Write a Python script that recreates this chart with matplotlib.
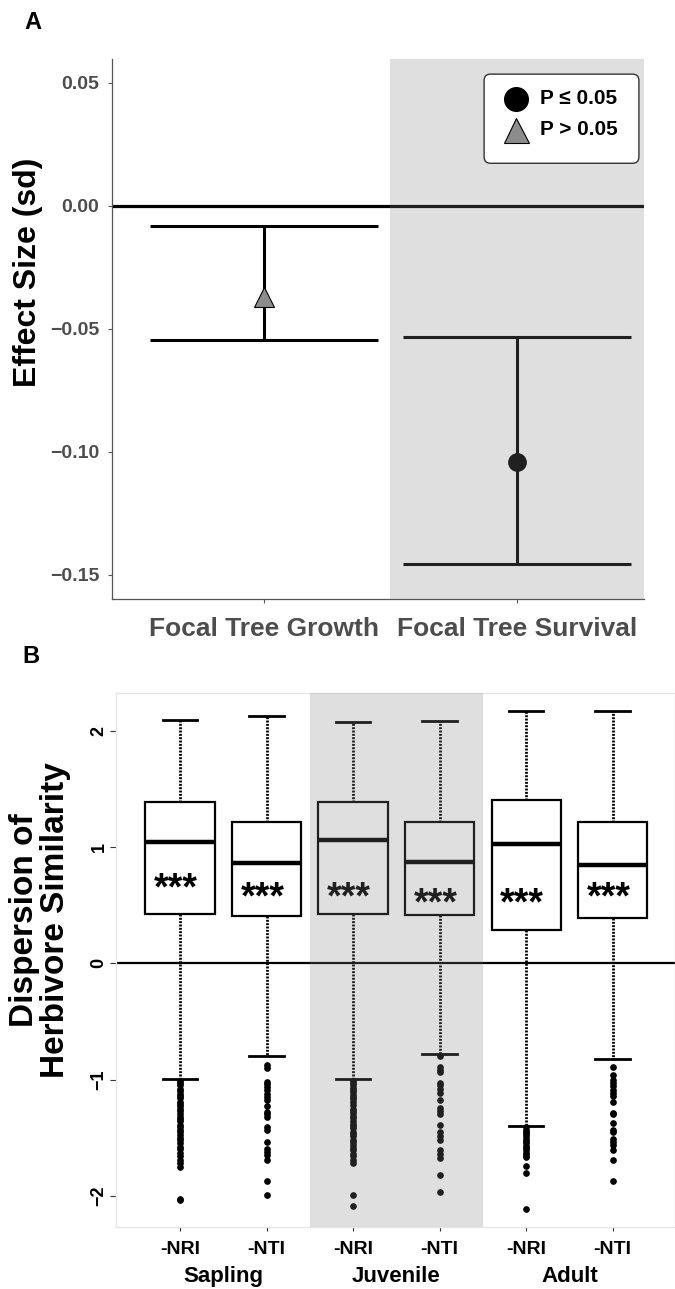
import matplotlib.pyplot as plt
from matplotlib.patches import FancyBboxPatch
from matplotlib.transforms import offset_copy, blended_transform_factory

plt.rcParams['font.family'] = ['Liberation Sans', 'DejaVu Sans']
plt.rcParams['font.weight'] = 'bold'

# ---- panel A data ----
effects = ['Focal Tree Growth', 'Focal Tree Survival']
estimate = [-0.037, -0.104]
ci_low = [-0.0545, -0.1458]
ci_high = [-0.0081, -0.0533]
significant = [False, True]
a_ticks = [-0.15, -0.10, -0.05, 0.00, 0.05]

# ---- panel B data ----
stages = ['Sapling', 'Juvenile', 'Adult']
indices = ['-NRI', '-NTI', '-NRI', '-NTI', '-NRI', '-NTI']
medians = [1.046, 0.868, 1.058, 0.871, 1.026, 0.845]
q1 = [0.428, 0.408, 0.428, 0.414, 0.287, 0.391]
q3 = [1.388, 1.218, 1.388, 1.221, 1.402, 1.221]
whisk_hi = [2.095, 2.133, 2.080, 2.083, 2.169, 2.175]
whisk_lo = [-0.991, -0.793, -0.991, -0.784, -1.403, -0.825]
outliers = [
    [-1.01, -1.03, -1.05, -1.08, -1.10, -1.12, -1.14, -1.16, -1.19, -1.21, -1.23,
     -1.25, -1.27, -1.30, -1.32, -1.34, -1.36, -1.39, -1.41, -1.43, -1.45, -1.48,
     -1.50, -1.52, -1.55, -1.58, -1.60, -1.63, -1.66, -1.69, -1.72, -1.75, -2.03, -2.04],
    [-0.877, -0.90, -1.02, -1.04, -1.064, -1.092, -1.12, -1.15, -1.172, -1.23, -1.279,
     -1.30, -1.322, -1.409, -1.43, -1.538, -1.595, -1.624, -1.653, -1.696, -1.877, -1.997],
    [-1.01, -1.03, -1.05, -1.07, -1.09, -1.11, -1.13, -1.15, -1.17, -1.19, -1.22,
     -1.25, -1.27, -1.29, -1.31, -1.33, -1.36, -1.38, -1.40, -1.42, -1.45, -1.47,
     -1.49, -1.52, -1.54, -1.56, -1.59, -1.61, -1.64, -1.66, -1.69, -1.72, -1.99, -2.09],
    [-0.796, -0.891, -0.914, -0.934, -1.029, -1.049, -1.078, -1.115, -1.172, -1.245,
     -1.27, -1.293, -1.394, -1.451, -1.489, -1.523, -1.609, -1.638, -1.672, -1.822, -1.971],
    [-1.41, -1.43, -1.45, -1.47, -1.49, -1.51, -1.53, -1.55, -1.57, -1.59, -1.61,
     -1.63, -1.65, -1.67, -1.74, -1.80, -2.11],
    [-0.891, -0.963, -1.0, -1.029, -1.058, -1.086, -1.115, -1.144, -1.193, -1.288,
     -1.299, -1.371, -1.437, -1.451, -1.509, -1.538, -1.566, -1.603, -1.696, -1.871],
]
star_y = [0.718, 0.647, 0.647, 0.589, 0.589, 0.647]
b_ticks = [-2, -1, 0, 1, 2]

W, H = 675, 1289
fig = plt.figure(figsize=(W / 100, H / 100), dpi=100)

def px_axes(l, t, r, b):
    return fig.add_axes([l / W, 1 - b / H, (r - l) / W, (b - t) / H])

# ================= Panel A =================
axA = px_axes(111.7, 59, 643.7, 599.3)
xa = [1, 2]
axA.axhline(0, color='black', lw=2.3, zorder=2)
axA.errorbar(xa, estimate,
             yerr=[[e - l for e, l in zip(estimate, ci_low)],
                   [h - e for e, h in zip(estimate, ci_high)]],
             fmt='none', ecolor='black', elinewidth=2.2, capsize=82, capthick=2.2, zorder=2)
for x, y, s in zip(xa, estimate, significant):
    if s:
        axA.plot(x, y, 'o', ms=12.5, color='black', zorder=3)
    else:
        axA.plot(x, y, '^', ms=15, mfc='#8c8c8c', mec='black', mew=0.8, zorder=3)
axA.axvspan(1.5, 2.5, color='0.5', alpha=0.25, lw=0, zorder=4)

axA.set_xlim(0.4, 2.5)
axA.set_ylim(-0.160, 0.0597)
axA.set_xticks(xa)
axA.set_xticklabels(effects, fontsize=19, color='#4d4d4d')
axA.set_yticks(a_ticks)
axA.set_yticklabels([f'{v:.2f}'.replace('-', '\u2212') for v in a_ticks],
                    fontsize=14, color='#4d4d4d')
axA.tick_params(axis='x', length=3, color='#555555', pad=10)
axA.tick_params(axis='y', length=3, color='#555555', pad=6)
for side in ['top', 'right']:
    axA.spines[side].set_visible(False)
for side in ['left', 'bottom']:
    axA.spines[side].set_color('#555555')
    axA.spines[side].set_linewidth(0.9)

# legend box (manual, ggplot-like)
box = FancyBboxPatch((0.700, 0.807), 0.291, 0.165, transform=axA.transAxes,
                     boxstyle='round,pad=0,rounding_size=0.012', fc='white',
                     ec='#333333', lw=1.0, zorder=6)
axA.add_patch(box)
axA.plot(0.760, 0.926, 'o', ms=17, color='black', transform=axA.transAxes, zorder=7, clip_on=False)
axA.plot(0.760, 0.869, '^', ms=18, mfc='#8c8c8c', mec='black', mew=0.8,
         transform=axA.transAxes, zorder=7, clip_on=False)
axA.text(0.805, 0.926, 'P \u2264 0.05', transform=axA.transAxes, fontsize=15,
         va='center', ha='left', zorder=8)
axA.text(0.805, 0.869, 'P > 0.05', transform=axA.transAxes, fontsize=15,
         va='center', ha='left', zorder=8)

fig.text(28 / W, 1 - 272 / H, 'Effect Size (sd)', rotation=90, fontsize=23,
         ha='center', va='center')
fig.text(24 / W, 1 - 29 / H, 'A', fontsize=17, ha='left', va='baseline')

# ================= Panel B =================
axB = px_axes(116, 693, 675, 1227)
xb = list(range(1, 7))
stats = []
for i in range(6):
    stats.append(dict(med=medians[i], q1=q1[i], q3=q3[i], whislo=whisk_lo[i],
                      whishi=whisk_hi[i], fliers=outliers[i]))
axB.axhline(0, color='black', lw=1.6, zorder=1)
axB.bxp(stats, positions=xb, widths=0.8, capwidths=0.4, patch_artist=True,
        showfliers=True, manage_ticks=False,
        boxprops=dict(facecolor='white', edgecolor='black', lw=1.6),
        medianprops=dict(color='black', lw=3.2),
        whiskerprops=dict(color='black', lw=2.0, ls=(0, (0.7, 0.5))),
        capprops=dict(color='black', lw=2.0),
        flierprops=dict(marker='o', ms=3.8, mfc='black', mec='black', ls='none'))
star_tr = offset_copy(axB.transData, fig=fig, x=-4, y=-20, units='dots')
for x, y in zip(xb, star_y):
    axB.text(x, y, '***', transform=star_tr, fontsize=27, ha='center', va='baseline', zorder=5)
# shade the Juvenile pair
axB.axvspan(xb[2] - 0.5, xb[3] + 0.5, color='0.5', alpha=0.25, lw=0, zorder=6)

axB.set_xlim(0.26, 6.72)
axB.set_ylim(-2.269, 2.327)
axB.set_xticks(xb)
axB.set_xticklabels(indices, fontsize=14, color='black')
axB.set_yticks(b_ticks)
axB.set_yticklabels([str(v).replace('-', '\u2212') for v in b_ticks],
                    fontsize=13, rotation=90, va='center', color='black')
axB.tick_params(axis='x', length=3, color='#333333', pad=7)
axB.tick_params(axis='y', length=4, color='#333333', pad=2)
for side in axB.spines:
    axB.spines[side].set_color('#e6e6e6')
    axB.spines[side].set_linewidth(1.0)

grp_tr = blended_transform_factory(axB.transData, axB.transAxes)
for k, s in enumerate(stages):
    axB.text(xb[2 * k] + 0.5, -0.092, s, transform=grp_tr, fontsize=16,
             ha='center', va='center')

fig.text(40 / W, 1 - 920 / H, 'Dispersion of\nHerbivore Similarity', rotation=90,
         fontsize=24, ha='center', va='center', linespacing=1.0)
fig.text(22 / W, 1 - 663 / H, 'B', fontsize=17, ha='left', va='baseline')

fig.savefig('out.png', dpi=100)
